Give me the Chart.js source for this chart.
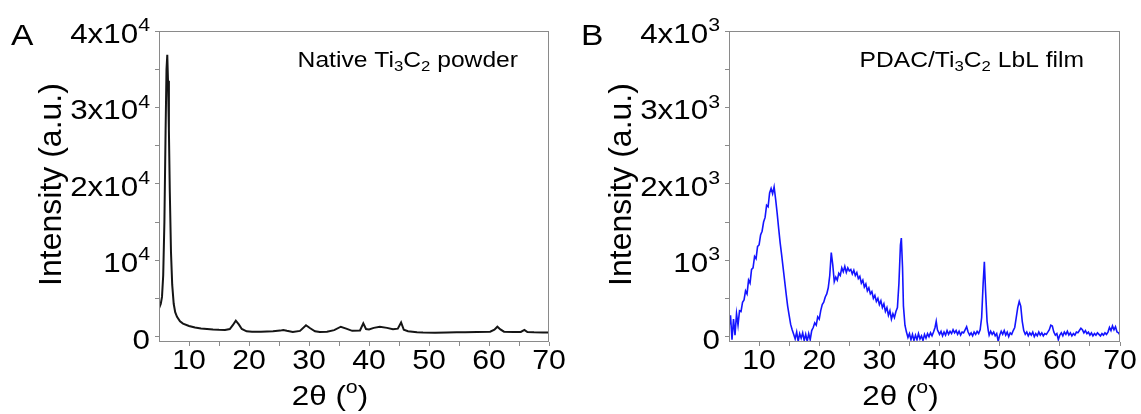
<!DOCTYPE html>
<html lang="en">
<head>
<meta charset="UTF-8">
<title>XRD Ti3C2</title>
<script src="https://cdn.jsdelivr.net/npm/chart.js"></script>
<style>
    body { margin: 0; background: #fff; }
    .row { display: flex; width: 1141px; height: 414px; }
    canvas { display: block; }
</style>
</head>
<body>
<div class="row">
    <canvas id="chartA" width="570" height="414"></canvas>
    <canvas id="chartB" width="571" height="414"></canvas>
</div>
<script>
// Panel A : native Ti3C2 powder (2theta in degrees, intensity)
const aX = [5.0, 5.3, 5.5, 5.7, 5.9, 6.1, 6.25, 6.38, 6.5, 6.65,
            6.8, 7.0, 7.2, 7.45, 7.7, 8.0, 8.5, 9.0, 10, 11,
            12, 13, 14, 15, 16, 16.8, 17.3, 17.8, 18.3, 18.8,
            19.6, 20.5, 22, 24, 25.2, 25.7, 26.3, 27.3, 28.5, 29.5,
            30.2, 31, 31.8, 33, 34.2, 35.3, 36.2, 37.2, 38.5, 39.05,
            39.5, 40, 40.8, 41.8, 43, 44, 44.8, 45.35, 45.8, 46.5,
            48, 49, 51, 53, 54.6, 56, 58, 60.2, 60.9, 61.4,
            61.9, 62.5, 64, 65.3, 65.9, 66.4, 67.5, 69, 70];
const aY = [3700, 4300, 5200, 8000, 15000, 27000, 35000, 36900, 33500, 27000,
            19000, 11000, 6800, 4300, 3200, 2600, 2000, 1700, 1400, 1200,
            1080, 1000, 930, 890, 880, 1000, 1500, 2100, 1600, 1000,
            700, 650, 640, 700, 790, 880, 760, 620, 750, 1500,
            1100, 700, 600, 650, 850, 1300, 1050, 760, 800, 1750,
            1000, 950, 1150, 1300, 1150, 980, 1050, 1850, 900, 700,
            580, 530, 510, 540, 570, 580, 600, 650, 900, 1300,
            950, 650, 600, 620, 880, 600, 560, 540, 530];

// Panel B : PDAC/Ti3C2 LbL film
const bX = [5, 5.25, 5.5, 5.75, 6, 6.25, 6.5, 6.75, 7, 7.25,
            7.5, 7.75, 8, 8.25, 8.5, 8.75, 9, 9.25, 9.5, 9.75,
            10, 10.25, 10.5, 10.75, 11, 11.25, 11.5, 11.75, 12, 12.25,
            12.5, 12.75, 13, 13.25, 13.5, 13.75, 14, 14.25, 14.5, 14.75,
            15, 15.25, 15.5, 15.75, 16, 16.25, 16.5, 16.75, 17, 17.25,
            17.5, 17.75, 18, 18.25, 18.5, 18.75, 19, 19.25, 19.5, 19.75,
            20, 20.25, 20.5, 20.75, 21, 21.25, 21.5, 21.75, 22, 22.25,
            22.5, 22.75, 23, 23.25, 23.5, 23.75, 24, 24.25, 24.5, 24.75,
            25, 25.25, 25.5, 25.75, 26, 26.25, 26.5, 26.75, 27, 27.25,
            27.5, 27.75, 28, 28.25, 28.5, 28.75, 29, 29.25, 29.5, 29.75,
            30, 30.25, 30.5, 30.75, 31, 31.25, 31.5, 31.75, 32, 32.25,
            32.5, 32.75, 33, 33.25, 33.5, 33.65, 33.85, 34, 34.25, 34.5, 34.75,
            35, 35.25, 35.5, 35.75, 36, 36.25, 36.5, 36.75, 37, 37.25,
            37.5, 37.75, 38, 38.25, 38.5, 38.75, 39, 39.25, 39.45, 39.65,
            40, 40.25, 40.5, 40.75, 41, 41.25, 41.5, 41.75, 42, 42.25,
            42.5, 42.75, 43, 43.25, 43.5, 43.75, 44, 44.25, 44.5, 44.75,
            45, 45.25, 45.5, 45.75, 46, 46.25, 46.5, 46.75, 47, 47.25,
            47.45, 47.65, 47.9, 48.1, 48.25, 48.5, 48.75, 49, 49.25, 49.5, 49.75,
            50, 50.25, 50.5, 50.75, 51, 51.25, 51.5, 51.75, 52, 52.25,
            52.5, 52.75, 53, 53.25, 53.5, 53.75, 54, 54.25, 54.5, 54.75,
            55, 55.25, 55.5, 55.75, 56, 56.25, 56.5, 56.75, 57, 57.25,
            57.5, 57.75, 58, 58.25, 58.5, 58.75, 59, 59.25, 59.5, 59.75,
            60, 60.25, 60.5, 60.75, 61, 61.25, 61.5, 61.75, 62, 62.25,
            62.5, 62.75, 63, 63.25, 63.5, 63.75, 64, 64.25, 64.5, 64.75,
            65, 65.25, 65.5, 65.75, 66, 66.25, 66.5, 66.75, 67, 67.25,
            67.5, 67.75, 68, 68.25, 68.5, 68.75, 69, 69.25, 69.5, 69.75, 70];
const bY = [120, 280, -40, 230, 20, 300, 150, 340, 330, 450,
            480, 600, 560, 740, 700, 880, 900, 1050, 1020, 1180,
            1200, 1330, 1380, 1500, 1560, 1720, 1700, 1880, 1940, 1870,
            1960, 1800, 1620, 1420, 1230, 1070, 900, 730, 560, 400,
            280, 160, 90, 30, -30, 60, -60, 40, -20, 50,
            -50, 30, -60, 40, -40, 80, 120, 180, 150, 260,
            230, 340, 420, 450, 520, 560, 640, 800, 1100, 940,
            720, 780, 740, 830, 800, 900, 850, 920, 840, 900,
            860, 880, 820, 870, 800, 840, 760, 790, 700, 740,
            650, 690, 600, 640, 560, 590, 500, 540, 460, 500,
            420, 470, 380, 430, 330, 380, 280, 340, 230, 300,
            250, 330, 380, 700, 1200, 1290, 900, 400, 150, 60, -10,
            40, -40, 30, -50, 20, -40, 40, -30, 10, -50,
            30, -20, 40, 0, 50, 10, 60, 120, 200, 90,
            30, 70, 10, 60, 20, 80, 30, 70, 40, 90,
            50, 80, 30, 70, 20, 60, 50, 90, 130, 60,
            20, 50, 10, 60, 30, 70, 40, 90, 250, 700,
            980, 600, 200, 80, 20, 70, 30, 60, 10, 40, -60,
            20, 70, 30, 80, 20, 60, 0, 50, 30, 80,
            120, 250, 380, 460, 400, 200, 80, 30, 60, 10,
            50, 20, 60, 0, 40, 10, 60, 20, 50, 10,
            40, 30, 60, 90, 150, 140, 60, 20, 40, -40,
            20, 50, 10, 60, 30, 70, 20, 50, 10, 40,
            20, 60, 50, 80, 110, 90, 50, 80, 40, 60,
            20, 50, 10, 40, 20, 50, 30, 10, 40, 20,
            50, 30, 60, 120, 80, 140, 90, 130, 60, 50, 20];

// axes
const xTicks = [10, 15, 20, 25, 30, 35, 40, 45, 50, 55, 60, 65, 70];
const xLabels = [10, 20, 30, 40, 50, 60, 70];
const yTicksA = [0, 5000, 10000, 15000, 20000, 25000, 30000, 35000, 40000];
const yLabelValsA = [0, 10000, 20000, 30000, 40000];
const yLabelsA = ['0', '10^4', '2x10^4', '3x10^4', '4x10^4'];
const yTicksB = [0, 500, 1000, 1500, 2000, 2500, 3000, 3500, 4000];
const yLabelValsB = [0, 1000, 2000, 3000, 4000];
const yLabelsB = ['0', '10^3', '2x10^3', '3x10^3', '4x10^3'];

const FONT = "'Liberation Sans', Arial, sans-serif";
const SX = 1.12; // texte un peu étiré en largeur comme l'original
const TXT = '#000';
const FRAME = '#8a8a8a';

// texte avec exposants (^c) et indices (_c)
function richText(ctx, str, x, y, size, align) {
    const parts = [];
    for (let i = 0; i < str.length; i++) {
        const c = str[i];
        if (c === '^' || c === '_') {
            parts.push({ t: str[i + 1], k: c });
            i++;
        } else if (parts.length && !parts[parts.length - 1].k) {
            parts[parts.length - 1].t += c;
        } else {
            parts.push({ t: c, k: '' });
        }
    }
    let w = 0;
    parts.forEach(p => {
        p.size = p.k ? size * 0.68 : size;
        ctx.font = p.size + 'px ' + FONT;
        p.w = ctx.measureText(p.t).width;
        p.dy = p.k === '^' ? -size * 0.42 : (p.k === '_' ? size * 0.2 : 0);
        w += p.w;
    });
    let x0 = x;
    if (align === 'right') x0 = x - w * SX;
    if (align === 'center') x0 = x - w * SX / 2;
    ctx.save();
    ctx.translate(x0, y);
    ctx.scale(SX, 1);
    ctx.fillStyle = TXT;
    ctx.textAlign = 'left';
    ctx.textBaseline = 'alphabetic';
    let cx = 0;
    parts.forEach(p => {
        ctx.font = p.size + 'px ' + FONT;
        ctx.fillText(p.t, cx, p.dy);
        cx += p.w;
    });
    ctx.restore();
}

const panelText = {
    id: 'panelText',
    afterDraw(chart, args, opts) {
        const { ctx, chartArea: a, scales: { x, y } } = chart;
        ctx.save();
        // cadre
        ctx.strokeStyle = FRAME;
        ctx.lineWidth = 1;
        ctx.strokeRect(Math.round(a.left) + 0.5, Math.round(a.top) + 0.5,
            Math.round(a.right - a.left) - 1, Math.round(a.bottom - a.top) - 1);
        // graduations y
        opts.yVals.forEach((v, i) => {
            richText(ctx, opts.yLabels[i], a.left - 9, y.getPixelForValue(v) + 12, 28, 'right');
        });
        // graduations x
        xLabels.forEach(v => {
            richText(ctx, String(v), x.getPixelForValue(v), 369, 27, 'center');
        });
        // titres
        richText(ctx, '2θ (^o)', (a.left + a.right) / 2 - 24, 405, 28, 'center');
        ctx.save();
        ctx.translate(61, (a.top + a.bottom) / 2 - 2);
        ctx.rotate(-Math.PI / 2);
        ctx.font = '32px ' + FONT;
        ctx.fillStyle = TXT;
        ctx.textAlign = 'center';
        ctx.fillText('Intensity (a.u.)', 0, 0);
        ctx.restore();
        // lettre du panneau
        richText(ctx, opts.letter, 11, 45, 30, 'left');
        // annotation
        richText(ctx, opts.note, opts.noteRight, 67, 22, 'right');
        ctx.restore();
    }
};

function makeChart(id, xs, ys, color, width, yMin, yMax, yTicks, yVals, yLabels, letter, note, noteRight) {
    const pts = xs.map((v, i) => ({ x: v, y: ys[i] }));
    return new Chart(document.getElementById(id), {
        type: 'line',
        data: {
            datasets: [{
                data: pts,
                borderColor: color,
                borderWidth: width,
                pointRadius: 0,
                tension: 0,
                fill: false
            }]
        },
        options: {
            responsive: false,
            animation: false,
            events: [],
            devicePixelRatio: 1,
            layout: { padding: { top: 31, right: 21, left: 0, bottom: 0 } },
            plugins: {
                legend: { display: false },
                tooltip: { enabled: false },
                panelText: { yVals: yVals, yLabels: yLabels, letter: letter, note: note, noteRight: noteRight }
            },
            scales: {
                x: {
                    type: 'linear',
                    min: 5,
                    max: 70,
                    afterBuildTicks: s => { s.ticks = xTicks.map(v => ({ value: v })); },
                    afterFit: s => { s.height = 72; },
                    ticks: { display: false },
                    border: { display: false },
                    grid: { drawOnChartArea: false, drawTicks: true, tickLength: 4, color: FRAME }
                },
                y: {
                    type: 'linear',
                    min: yMin,
                    max: yMax,
                    afterBuildTicks: s => { s.ticks = yTicks.map(v => ({ value: v })); },
                    afterFit: s => { s.width = 159; },
                    ticks: { display: false },
                    border: { display: false },
                    grid: { drawOnChartArea: false, drawTicks: true, tickLength: 4, color: FRAME }
                }
            }
        },
        plugins: [panelText]
    });
}

makeChart('chartA', aX, aY, '#151515', 2, -700, 40000, yTicksA, yLabelValsA, yLabelsA,
    'A', 'Native Ti_3C_2 powder', 518);
makeChart('chartB', bX, bY, '#1414ff', 1.6, -70, 4000, yTicksB, yLabelValsB, yLabelsB,
    'B', 'PDAC/Ti_3C_2 LbL film', 514);
</script>
</body>
</html>
